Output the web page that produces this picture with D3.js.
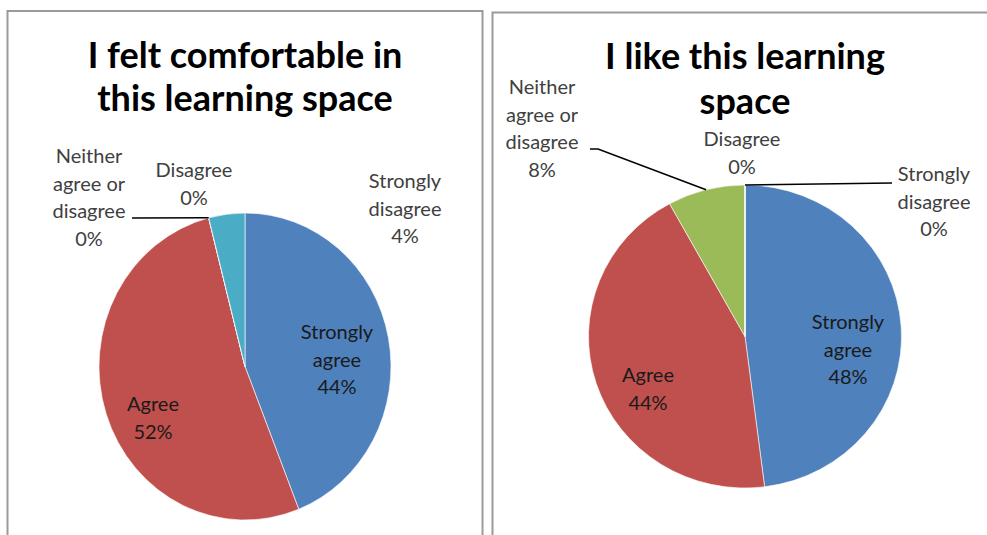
<!DOCTYPE html>
<html>
<head>
<meta charset="utf-8">
<script src="https://cdn.jsdelivr.net/npm/d3@7"></script>
<style>
  body { margin: 0; background: #fff; }
  svg text { font-family: Lato, "Open Sans", sans-serif; }
</style>
</head>
<body>
<svg id="chart" width="987" height="535"></svg>
<script>
// data
const categories = ['Strongly agree', 'Agree', 'Neither agree or disagree', 'Disagree', 'Strongly disagree'];
const comfortValues = [44, 52, 0, 0, 4];
const likeValues = [48, 44, 8, 0, 0];
const comfortTitle = ['I felt comfortable in', 'this learning space'];
const likeTitle = ['I like this learning', 'space'];
const labelLines = [['Strongly', 'agree'], ['Agree'], ['Neither', 'agree or', 'disagree'], ['Disagree'], ['Strongly', 'disagree']];
const colors = ['#4F81BD', '#C0504D', '#9BBB59', '#8064A2', '#4BACC6'];

const svg = d3.select('#chart');

// panels: frame, pie centre + radii, title baselines, label anchors (x centre, first baseline)
const panels = [
  {
    values: comfortValues, title: comfortTitle,
    frame: [7.5, 11, 475, 540],
    cx: 245, cy: 366.5, rx: 146, ry: 153.5,
    titleY: [68, 111],
    labels: [[337, 339], [153, 411], [89, 163], [194, 177], [405, 188]],
    leaders: [null, null, [132, 218], null, null]
  },
  {
    values: likeValues, title: likeTitle,
    frame: [492.5, 12.5, 510, 540],
    cx: 745, cy: 336.5, rx: 156.5, ry: 151.5,
    titleY: [69, 114],
    labels: [[848, 329], [648, 382], [542, 94], [742, 146], [934, 181]],
    leaders: [null, null, [590, 149], null, [892, 183]]
  }
];

const lineH = 27.5;

panels.forEach(p => {
  const g = svg.append('g');

  g.append('rect')
    .attr('x', p.frame[0]).attr('y', p.frame[1])
    .attr('width', p.frame[2]).attr('height', p.frame[3])
    .attr('fill', '#fff')
    .attr('stroke', '#9a9a9a')
    .attr('stroke-width', 2);

  g.append('text')
    .attr('text-anchor', 'middle')
    .attr('font-size', 36)
    .attr('font-weight', 'bold')
    .attr('fill', '#000')
    .selectAll('tspan')
    .data(p.title)
    .join('tspan')
    .attr('x', p.cx)
    .attr('y', (d, i) => p.titleY[i])
    .text(d => d);

  const pie = d3.pie().sort(null).value(d => d);
  const arcs = pie(p.values);
  const arc = d3.arc().innerRadius(0).outerRadius(p.rx);
  const sy = p.ry / p.rx;

  g.append('g')
    .attr('transform', `translate(${p.cx},${p.cy}) scale(1,${sy})`)
    .selectAll('path')
    .data(arcs)
    .join('path')
    .attr('d', arc)
    .attr('fill', (d, i) => colors[i])
    .attr('stroke', '#fff')
    .attr('stroke-width', 0.6);

  // leader lines from slice midpoint on the rim to the label
  arcs.forEach((a, i) => {
    const end = p.leaders[i];
    if (!end) return;
    const mid = (a.startAngle + a.endAngle) / 2;
    const x0 = p.cx + p.rx * Math.sin(mid);
    const y0 = p.cy - p.ry * Math.cos(mid);
    const pts = [[x0, y0]];
    if (Math.abs(end[1] - y0) > 5) pts.push([end[0] + (end[0] < x0 ? 8 : -8), end[1]]);
    pts.push(end);
    g.append('path')
      .attr('d', d3.line()(pts))
      .attr('fill', 'none')
      .attr('stroke', '#000')
      .attr('stroke-width', 1.5);
  });

  // data labels
  arcs.forEach((a, i) => {
    const pos = p.labels[i];
    const lines = labelLines[i].concat([p.values[i] + '%']);
    const inside = p.values[i] > 10;
    g.append('text')
      .attr('text-anchor', 'middle')
      .attr('font-size', 20)
      .attr('fill', inside ? '#1a1a1a' : '#404040')
      .selectAll('tspan')
      .data(lines)
      .join('tspan')
      .attr('x', pos[0])
      .attr('y', (d, k) => pos[1] + k * lineH)
      .text(d => d);
  });
});
</script>
</body>
</html>
